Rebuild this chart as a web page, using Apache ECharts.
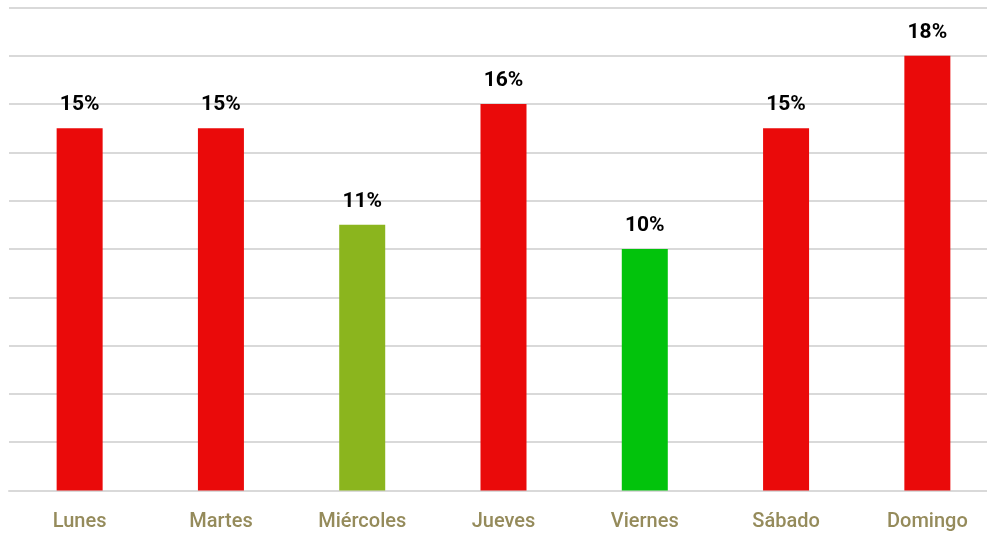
<!DOCTYPE html>
<html>
<head>
<meta charset="utf-8">
<script src="https://cdn.jsdelivr.net/npm/echarts@6/dist/echarts.min.js"></script>
<style>
  html, body { margin: 0; padding: 0; background: #fff; overflow: hidden; }
  #chart { width: 998px; height: 535px; }
</style>
</head>
<body>
<div id="chart"></div>
<script>
const days = ['Lunes', 'Martes', 'Miércoles', 'Jueves', 'Viernes', 'Sábado', 'Domingo']
const shares = [15, 15, 11, 16, 10, 15, 18]
const barColors = ['#EA0A0A', '#EA0A0A', '#8BB51E', '#EA0A0A', '#02C30C', '#EA0A0A', '#EA0A0A']

let chart = echarts.init(document.getElementById('chart'))
let option = {
  animation: false,
  grid: {
    left: 9,
    right: 0,
    top: 7.5,
    bottom: 44.5,
    containLabel: false,
  },
  xAxis: {
    type: 'category',
    data: days,
    axisLine: {
      lineStyle: { color: '#d9d9d9', width: 2 }
    },
    axisTick: { show: false },
    axisLabel: {
      color: '#958B5B',
      fontFamily: 'Roboto',
      fontWeight: 500,
      fontSize: 20,
      margin: 21,
      interval: 0,
    }
  },
  yAxis: {
    type: 'value',
    min: 0,
    max: 20,
    interval: 2,
    axisLabel: { show: false },
    axisLine: { show: false },
    axisTick: { show: false },
    splitLine: {
      lineStyle: { color: '#d9d9d9', width: 2 }
    }
  },
  series: [
    {
      type: 'bar',
      barWidth: 46,
      data: shares.map((v, i) => ({ value: v, itemStyle: { color: barColors[i] } })),
      label: {
        show: true,
        position: 'top',
        distance: 13,
        formatter: p => p.value + '%',
        color: '#000',
        fontFamily: 'Roboto',
        fontWeight: 'bold',
        fontSize: 21,
      }
    }
  ]
}
chart.setOption(option)
</script>
</body>
</html>
